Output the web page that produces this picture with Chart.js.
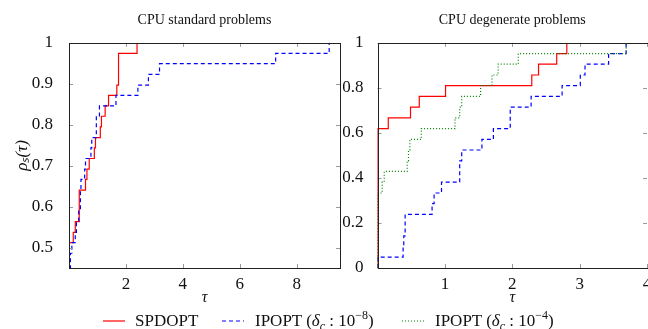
<!DOCTYPE html>
<html>
<head>
<meta charset="utf-8">
<script src="https://cdn.jsdelivr.net/npm/chart.js@4.4.1/dist/chart.umd.min.js"></script>
<style>
  html, body { margin: 0; padding: 0; background: #fff; }
  body { width: 648px; height: 329px; position: relative; overflow: hidden; font-family: 'Liberation Serif', serif; color: #111; }
  canvas { position: absolute; top: 0; }
  #legend { position: absolute; left: 0; top: 311px; width: 648px; height: 19px; font-size: 17px; }
  #legend span, #legend svg { position: absolute; }
  #legend span { top: 0; line-height: 19px; white-space: nowrap; }
  #legend svg { top: 9px; }
  sub, sup { font-size: 12px; line-height: 0; }
</style>
</head>
<body>
<canvas id="std" width="345" height="329" style="left:0"></canvas>
<canvas id="deg" width="320" height="329" style="left:335px"></canvas>
<div id="legend">
  <svg width="22" height="2" style="left:103px"><line x1="0" y1="1" x2="22" y2="1" stroke="#ff0000" stroke-width="1.2"/></svg>
  <span style="left:135px">SPDOPT</span>
  <svg width="22" height="2" style="left:222px"><line x1="0" y1="1" x2="22" y2="1" stroke="#0000ff" stroke-width="1.2" stroke-dasharray="4 3"/></svg>
  <span style="left:255px">IPOPT (<i>δ</i><sub><i>c</i></sub> : 10<sup>−8</sup>)</span>
  <svg width="22" height="2" style="left:402px"><line x1="0" y1="1" x2="22" y2="1" stroke="#008000" stroke-width="1.2" stroke-dasharray="1 2"/></svg>
  <span style="left:435px">IPOPT (<i>δ</i><sub><i>c</i></sub> : 10<sup>−4</sup>)</span>
</div>
<script>
// CPU standard problems
const stdSpdoptTau = [0, 0, 0.15, 0.22, 0.36, 0.58, 0.63, 0.71, 0.89, 0.93, 1.10, 1.14, 1.27, 1.39, 1.68, 1.74, 2.39];
const stdSpdoptRho = [0.40, 0.513, 0.538, 0.564, 0.641, 0.667, 0.692, 0.718, 0.744, 0.769, 0.795, 0.821, 0.846, 0.872, 0.897, 0.974, 1.0];
const stdIpopt8Tau = [0, 0.05, 0.10, 0.22, 0.26, 0.34, 0.40, 0.42, 0.55, 0.58, 0.77, 0.80, 0.96, 1.07, 1.65, 2.42, 2.79, 3.18, 7.26, 9.14];
const stdIpopt8Rho = [0.40, 0.487, 0.513, 0.538, 0.564, 0.590, 0.641, 0.667, 0.692, 0.718, 0.744, 0.769, 0.821, 0.846, 0.872, 0.897, 0.923, 0.949, 0.974, 1.0];

// CPU degenerate problems
const degSpdoptTau = [0, 0, 0.16, 0.49, 0.62, 1.01, 2.29, 2.39, 2.66, 2.81];
const degSpdoptRho = [0, 0.619, 0.667, 0.714, 0.762, 0.810, 0.857, 0.905, 0.952, 1.0];
const degIpopt8Tau = [0, 0, 0.38, 0.39, 0.41, 0.81, 0.84, 0.95, 1.22, 1.25, 1.55, 1.72, 1.97, 2.28, 2.74, 3.01, 3.08, 3.43, 3.69];
const degIpopt8Rho = [0, 0.048, 0.095, 0.143, 0.238, 0.286, 0.333, 0.381, 0.476, 0.524, 0.571, 0.619, 0.714, 0.762, 0.810, 0.857, 0.905, 0.952, 1.0];
const degIpopt4Tau = [0, 0, 0.07, 0.10, 0.44, 0.46, 0.48, 0.65, 1.15, 1.22, 1.25, 1.53, 1.70, 1.79, 2.09, 3.69];
const degIpopt4Rho = [0, 0.333, 0.381, 0.429, 0.476, 0.524, 0.571, 0.619, 0.667, 0.714, 0.762, 0.810, 0.857, 0.905, 0.952, 1.0];

const stdXTicks = [2, 4, 6, 8];
const stdYTicks = [0.5, 0.6, 0.7, 0.8, 0.9, 1];
const degXTicks = [1, 2, 3, 4];
const degYTicks = [0, 0.2, 0.4, 0.6, 0.8, 1];

const serif = "'Liberation Serif', serif";

function pts(xs, ys) {
  return xs.map((x, i) => ({ x: x, y: ys[i] }));
}

function series(label, xs, ys, color, dash) {
  return {
    label: label,
    data: pts(xs, ys),
    borderColor: color,
    borderWidth: 1.2,
    borderDash: dash,
    stepped: true,
    pointRadius: 0,
    fill: false
  };
}

// box around the plot area with pgfplots-like inner ticks
const frame = {
  id: 'frame',
  afterDraw(chart) {
    const { ctx, chartArea: a, scales } = chart;
    ctx.save();
    ctx.strokeStyle = '#999';
    ctx.lineWidth = 1;
    ctx.beginPath();
    scales.x.ticks.forEach(t => {
      const px = Math.round(scales.x.getPixelForValue(t.value)) + 0.5;
      ctx.moveTo(px, a.bottom); ctx.lineTo(px, a.bottom - 4);
      ctx.moveTo(px, a.top); ctx.lineTo(px, a.top + 4);
    });
    scales.y.ticks.forEach(t => {
      const py = Math.round(scales.y.getPixelForValue(t.value)) + 0.5;
      ctx.moveTo(a.left, py); ctx.lineTo(a.left + 4, py);
      ctx.moveTo(a.right, py); ctx.lineTo(a.right - 4, py);
    });
    ctx.stroke();
    ctx.strokeStyle = '#222';
    ctx.strokeRect(Math.round(a.left) + 0.5, Math.round(a.top) + 0.5, Math.round(a.width), Math.round(a.height));
    ctx.restore();
  }
};

function fmt(v) { return String(Number(v.toFixed(2))); }

function makeChart(id, opts) {
  return new Chart(document.getElementById(id), {
    type: 'line',
    data: { datasets: opts.datasets },
    options: {
      responsive: false,
      animation: false,
      devicePixelRatio: 1,
      layout: { padding: { left: 0, right: opts.padRight, top: 0, bottom: 21 } },
      plugins: {
        legend: { display: false },
        tooltip: { enabled: false },
        title: {
          display: true,
          text: opts.title,
          fullSize: false,
          color: '#111',
          font: { family: serif, size: 14, weight: 'normal' },
          padding: { top: 12, bottom: 14 }
        }
      },
      scales: {
        x: {
          type: 'linear',
          min: opts.xMin, max: opts.xMax,
          afterBuildTicks: s => { s.ticks = opts.xTicks.map(v => ({ value: v })); },
          afterFit: s => { s.height = 40; },
          grid: { display: false },
          border: { display: false },
          ticks: { padding: -2, color: '#111', font: { family: serif, size: 17 }, maxRotation: 0, callback: v => fmt(v) },
          title: { display: true, text: 'τ', color: '#111', font: { family: serif, size: 16, style: 'italic' }, padding: { top: 0, bottom: 1 } }
        },
        y: {
          type: 'linear',
          min: opts.yMin, max: opts.yMax,
          afterBuildTicks: s => { s.ticks = opts.yTicks.map(v => ({ value: v })); },
          afterFit: s => { s.width = opts.yWidth; },
          grid: { display: false },
          border: { display: false },
          ticks: { padding: opts.yPad, color: '#111', font: { family: serif, size: 17 }, callback: v => fmt(v) },
          title: { display: !!opts.yTitle, text: opts.yTitle || '', color: '#111', font: { family: serif, size: 17, style: 'italic' }, padding: { top: 12, bottom: 0 } }
        }
      }
    },
    plugins: [frame]
  });
}

makeChart('std', {
  title: 'CPU standard problems',
  datasets: [
    series('IPOPT (δc : 10−8)', stdIpopt8Tau, stdIpopt8Rho, '#0000ff', [4, 3]),
    series('SPDOPT', stdSpdoptTau, stdSpdoptRho, '#ff0000', [])
  ],
  xMin: 0, xMax: 9.52, yMin: 0.451, yMax: 1,
  xTicks: stdXTicks, yTicks: stdYTicks,
  yWidth: 69, yPad: 8, yTitle: 'ρₛ(τ)', padRight: 5
});

makeChart('deg', {
  title: 'CPU degenerate problems',
  datasets: [
    series('IPOPT (δc : 10−4)', degIpopt4Tau, degIpopt4Rho, '#008000', [1, 2]),
    series('IPOPT (δc : 10−8)', degIpopt8Tau, degIpopt8Rho, '#0000ff', [4, 3]),
    series('SPDOPT', degSpdoptTau, degSpdoptRho, '#ff0000', [])
  ],
  xMin: 0, xMax: 4, yMin: 0, yMax: 1,
  xTicks: degXTicks, yTicks: degYTicks,
  yWidth: 42.5, yPad: 6, yTitle: null, padRight: 8
});
</script>
</body>
</html>
